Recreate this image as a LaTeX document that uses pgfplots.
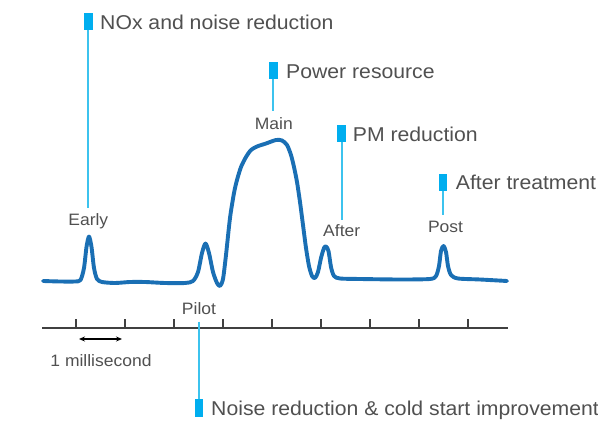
\documentclass[border=0pt]{standalone}
\usepackage{pgfplots}
\pgfplotsset{compat=1.18}
\usepackage{graphicx}
\usepackage{fontspec}
\setmainfont{Liberation Sans}
\usetikzlibrary{arrows.meta}
\definecolor{curveblue}{HTML}{1A6FB4}
\definecolor{cyanline}{HTML}{3CC3EE}
\definecolor{cyanmark}{HTML}{00AEEF}
\definecolor{txt}{HTML}{505050}
\newcommand{\wide}[1]{\scalebox{1.06}[1]{#1}}
\begin{document}
\begin{tikzpicture}
\begin{axis}[hide axis, scale only axis, width=598pt, height=422pt,
  xmin=0, xmax=598, ymin=0, ymax=422, y dir=reverse, clip=false]
% time axis
\draw[color=black!75, line width=1.2pt] (axis cs:42,328) -- (axis cs:508,328);
\foreach \t in {76,125,174,223,272,321,370,419,468}{
  \edef\tmp{\noexpand\draw[color=black!75, line width=1.1pt] (axis cs:\t,328) -- (axis cs:\t,319);}\tmp
}
\draw[{Stealth[length=6pt,width=5pt]}-{Stealth[length=6pt,width=5pt]}, line width=1.1pt, black] (axis cs:79,339) -- (axis cs:122,339);
% injection curve
\addplot[curveblue, line width=3.9pt, smooth, tension=0.45, line cap=round, line join=round] coordinates {
(43,281) (60,281.5) (75,281.5) (80.5,280) (84,268) (86.5,247) (89,236.5) (91.5,247) (94,268) (97,279) (102,282)
(115,283) (130,282) (145,282) (165,283) (185,283) (193,281) (198,272) (202,253) (205.5,243.5) (209,253) (213,272) (217,283) (220,286)
(223,279) (226,255) (230,218) (234,193) (237,180) (241,167) (246,157) (251,150) (257,146.5) (266,143.5) (276,140) (282,140.5)
(287,145) (291,155) (294,167) (297,182) (300,202) (303,225) (306,248) (309,266) (312,276) (315,278) (318,272) (321,258)
(324,248) (326,246.5) (328.5,251) (331,267) (334,276) (340,278.5) (360,279) (400,279.5) (430,279) (436,276) (439,266)
(441,251) (443.5,246) (446,252) (448,266) (451,275) (458,278.5) (480,279.5) (507,281)
};
% callout lines
\draw[cyanline, line width=2pt] (axis cs:88.3,30) -- (axis cs:88.3,208);
\draw[cyanline, line width=2pt] (axis cs:273.3,79) -- (axis cs:273.3,111);
\draw[cyanline, line width=2pt] (axis cs:341.5,141.7) -- (axis cs:341.5,220);
\draw[cyanline, line width=2pt] (axis cs:443.2,190.7) -- (axis cs:443.2,215);
\draw[cyanline, line width=2pt] (axis cs:199.2,321.7) -- (axis cs:199.2,399.3);
% callout markers
\fill[cyanmark] (axis cs:84,13.3) rectangle (axis cs:92.5,30);
\fill[cyanmark] (axis cs:269,62) rectangle (axis cs:277.5,79);
\fill[cyanmark] (axis cs:337.3,125) rectangle (axis cs:345.7,141.7);
\fill[cyanmark] (axis cs:439,174) rectangle (axis cs:447.3,190.7);
\fill[cyanmark] (axis cs:195,399.3) rectangle (axis cs:203.3,416.7);
% callout texts
\tikzset{callout/.style={anchor=base west, inner sep=0pt, text=txt, font=\fontsize{20}{24}\selectfont},
         lbl/.style={anchor=base, inner sep=0pt, text=txt, font=\fontsize{16.5}{20}\selectfont}}
\node[callout] at (axis cs:100,29.3) {\wide{NOx and noise reduction}};
\node[callout] at (axis cs:286,78.5) {\wide{Power resource}};
\node[callout] at (axis cs:352.7,141.7) {\wide{PM reduction}};
\node[callout] at (axis cs:455.7,190) {\wide{After treatment}};
\node[callout] at (axis cs:211,415.5) {\wide{Noise reduction \& cold start improvement}};
% labels
\node[lbl] at (axis cs:88.3,226) {\wide{Early}};
\node[lbl] at (axis cs:273.8,129.5) {\wide{Main}};
\node[lbl] at (axis cs:341.7,236.7) {\wide{After}};
\node[lbl] at (axis cs:445.5,232.7) {\wide{Post}};
\node[lbl] at (axis cs:199,315) {\wide{Pilot}};
\node[lbl] at (axis cs:101,366.7) {\wide{1 millisecond}};
\end{axis}
\pgfresetboundingbox
\path (0,0) rectangle (598pt,422pt);
\end{tikzpicture}
\end{document}
